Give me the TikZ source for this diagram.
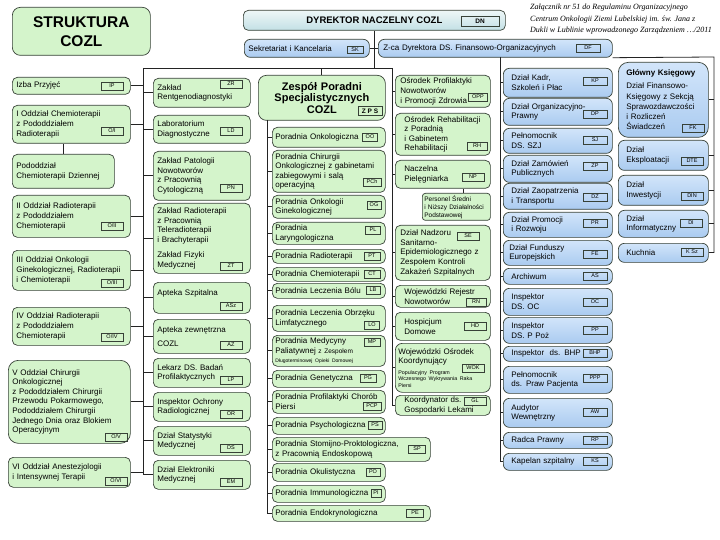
\documentclass[tikz,border=0pt]{standalone}
\usepackage{fontspec}
\setmainfont{Liberation Sans}
\newfontfamily\notefont{Liberation Serif}
\usepackage{tikz}
\usepackage{xcolor}
\definecolor{gfill}{RGB}{212,244,203}
\definecolor{bTop}{RGB}{210,229,250}
\definecolor{bBot}{RGB}{170,203,240}
\definecolor{dTop}{RGB}{238,247,247}
\definecolor{dBot}{RGB}{195,224,229}
\definecolor{boxline}{RGB}{55,65,55}
\definecolor{wirec}{RGB}{35,35,35}

\begin{document}
\begin{tikzpicture}[x=1pt,y=-1pt,
  every node/.style={font=\fontsize{8}{9.6}\selectfont},
  gbox/.style={draw=boxline, line width=0.7pt, fill=gfill, rounded corners=5pt, anchor=north west, align=left, inner xsep=4pt, inner ysep=1pt},
  bbox/.style={draw=boxline, line width=0.7pt, top color=bTop, bottom color=bBot, rounded corners=6pt, anchor=north west, align=left, inner xsep=8pt, inner ysep=1pt},
  dbox/.style={draw=boxline, line width=0.7pt, top color=dTop, bottom color=dBot, rounded corners=5pt, anchor=north west, align=center},
  codebox/.style={draw=boxline, line width=0.5pt, minimum width=22pt, minimum height=8pt, inner sep=0pt, font=\fontsize{5.5}{6}\selectfont},
  wire/.style={draw=wirec, line width=0.8pt}]
\useasboundingbox (0,0) rectangle (720,540);

\node[gbox, text width=130pt, minimum height=48pt, rounded corners=8pt, align=center, font=\bfseries\fontsize{15.5}{19}\selectfont] (title) at (12,7) {STRUKTURA\\COZL};
\node[anchor=north west, align=left, inner sep=0pt, font=\notefont\itshape\fontsize{8}{11.5}\selectfont] (note) at (530,4) {Załącznik nr 51 do Regulaminu Organizacyjnego\\Centrum Onkologii Ziemi Lubelskiej im. św. Jana z\\Dukli w Lublinie wprowadzonego Zarządzeniem …/2011};

\node[dbox, minimum width=262pt, minimum height=20pt, font=\bfseries\fontsize{9.5}{11}\selectfont] (dn) at (243,10) {DYREKTOR NACZELNY COZL};
\node[codebox, minimum width=38pt, minimum height=10pt, font=\bfseries\fontsize{6.5}{7}\selectfont] (cDN) at (480,21) {DN};
\node[bbox, inner xsep=4pt, text width=117pt, minimum height=18pt] (sek) at (244,39) {Sekretariat i Kancelaria};
\node[codebox, minimum width=16pt, minimum height=7pt] (cSK) at (355,50) {SK};
\node[bbox, inner xsep=5pt, text width=224pt, minimum height=18pt] (zca) at (378,39) {Z-ca Dyrektora DS. Finansowo-Organizacyjnych};
\node[codebox, minimum width=24pt] (cDF) at (588,48) {DF};

\node[gbox, text width=110pt, minimum height=17pt] (izba) at (12,77) {Izba Przyjęć};
\node[codebox] (cIP) at (112,86) {IP};
\node[gbox, text width=110pt, minimum height=38pt] (odz1) at (12,105) {I Oddział Chemioterapii\\z Pododdziałem\\Radioterapii};
\node[codebox] (cOI) at (112,131) {O/I};
\node[gbox, text width=94pt, minimum height=34pt] (podo) at (12,154) {Pododdział\\Chemioterapii Dziennej};
\node[gbox, text width=110pt, minimum height=42pt] (odz2) at (12,195) {II Oddział Radioterapii\\z Pododdziałem\\Chemioterapii};
\node[codebox] (cOII) at (112,226) {O/II};
\node[gbox, text width=110pt, minimum height=40pt] (odz3) at (12,250) {III Oddział Onkologii\\Ginekologicznej, Radioterapii\\i Chemioterapii};
\node[codebox] (cOIII) at (112,283) {O/III};
\node[gbox, text width=110pt, minimum height=38pt] (odz4) at (12,307) {IV Oddział Radioterapii\\z Pododdziałem\\Chemioterapii};
\node[codebox] (cOIV) at (112,337) {O/IV};
\node[gbox, text width=114pt, minimum height=83pt, rounded corners=10pt] (odz5) at (8,360) {V Oddział Chirurgii\\Onkologicznej\\z Pododdziałem Chirurgii\\Przewodu Pokarmowego,\\Pododdziałem Chirurgii\\Jednego Dnia oraz Blokiem\\Operacyjnym};
\node[codebox] (cOV) at (116,437) {O/V};
\node[gbox, text width=114pt, minimum height=30pt] (odz6) at (8,457) {VI Oddział Anestezjologii\\i Intensywnej Terapii};
\node[codebox] (cOVI) at (116,481) {O/VI};

\node[gbox, text width=89pt, minimum height=29pt] (rtg) at (153,78) {Zakład\\Rentgenodiagnostyki};
\node[codebox] (cZR) at (231,84) {ZR};
\node[gbox, text width=89pt, minimum height=28pt] (lab) at (153,115) {Laboratorium\\Diagnostyczne};
\node[codebox] (cLD) at (231,131) {LD};
\node[gbox, text width=89pt, minimum height=49pt] (pat) at (153,151) {Zakład Patologii\\Nowotworów\\z Pracownią\\Cytologiczną};
\node[codebox] (cPN) at (231,188) {PN};
\node[gbox, text width=89pt, minimum height=70pt] (radz) at (153,203) {Zakład Radioterapii\\z Pracownią\\Teleradioterapii\\i Brachyterapii\\[6pt]Zakład Fizyki\\Medycznej};
\node[codebox] (cZT) at (231,266) {ZT};
\node[gbox, text width=89pt, minimum height=31pt] (apsz) at (153,282) {Apteka Szpitalna\\\mbox{}};
\node[codebox] (cASz) at (231,306) {ASz};
\node[gbox, text width=89pt, minimum height=34pt] (apzw) at (153,319) {Apteka zewnętrzna\\[4pt]COZL};
\node[codebox] (cAZ) at (231,345) {AZ};
\node[gbox, text width=89pt, minimum height=29pt] (lek) at (153,358) {Lekarz DS. Badań\\Profilaktycznych};
\node[codebox] (cLP) at (231,380) {LP};
\node[gbox, text width=89pt, minimum height=29pt] (ochr) at (153,392) {Inspektor Ochrony\\Radiologicznej};
\node[codebox] (cOR) at (231,414) {OR};
\node[gbox, text width=89pt, minimum height=29pt] (stat) at (153,426) {Dział Statystyki\\Medycznej};
\node[codebox] (cDS) at (231,448) {DS};
\node[gbox, text width=89pt, minimum height=29pt] (elek) at (153,460) {Dział Elektroniki\\Medycznej};
\node[codebox] (cEM) at (231,482) {EM};

\node[gbox, text width=119pt, minimum height=45pt, rounded corners=8pt, align=center, font=\bfseries\fontsize{11}{11.3}\selectfont] (zps) at (258,75) {Zespół Poradni\\Specjalistycznych\\COZL};
\node[codebox, minimum width=24pt, minimum height=9pt, font=\bfseries\fontsize{6.5}{7}\selectfont] (cZPS) at (370,111) {Z P S};
\node[gbox, inner xsep=3pt, text width=107pt, minimum height=20pt] (pOnk) at (272,127) {Poradnia Onkologiczna};
\node[codebox, minimum width=15pt] (cOO) at (370,137) {OO};
\node[gbox, inner xsep=3pt, text width=107pt, minimum height=42pt] (pChir) at (272,150) {Poradnia Chirurgii\\Onkologicznej z gabinetami\\zabiegowymi i salą\\operacyjną};
\node[codebox, minimum width=18pt] (cPCh) at (372,182) {PCh};
\node[gbox, inner xsep=3pt, text width=107pt, minimum height=23pt] (pOG) at (272,195) {Poradnia Onkologii\\Ginekologicznej};
\node[codebox, minimum width=14pt] (cOG) at (374,205) {OG};
\node[gbox, inner xsep=3pt, text width=107pt, minimum height=22pt] (pLar) at (272,222) {Poradnia\\Laryngologiczna};
\node[codebox, minimum width=15pt] (cPL) at (373,230) {PL};
\node[gbox, inner xsep=3pt, text width=107pt, minimum height=14pt] (pRad) at (272,249) {Poradnia Radioterapii};
\node[codebox, minimum width=16pt] (cPT) at (372,256) {PT};
\node[gbox, inner xsep=3pt, text width=107pt, minimum height=14pt] (pChem) at (272,267) {Poradnia Chemioterapii};
\node[codebox, minimum width=16pt] (cCT) at (372,274) {CT};
\node[gbox, inner xsep=3pt, text width=107pt, minimum height=15pt] (pBol) at (272,283) {Poradnia Leczenia Bólu};
\node[codebox, minimum width=14pt] (cLB) at (373,290) {LB};
\node[gbox, inner xsep=3pt, text width=107pt, minimum height=26pt] (pLimf) at (272,305) {Poradnia Leczenia Obrzęku\\Limfatycznego};
\node[codebox, minimum width=15pt] (cLO) at (372,325) {LO};
\node[gbox, inner xsep=3pt, text width=107pt, minimum height=31pt] (pPal) at (272,335) {Poradnia Medycyny\\Paliatywnej {\fontsize{6.5}{7}\selectfont z Zespołem}\\{\fontsize{5}{6}\selectfont Długoterminowej Opieki Domowej}};
\node[codebox, minimum width=16pt] (cMP) at (372,342) {MP};
\node[gbox, inner xsep=3pt, text width=107pt, minimum height=17pt] (pGen) at (272,370) {Poradnia Genetyczna};
\node[codebox, minimum width=16pt] (cPG) at (368,378) {PG};
\node[gbox, inner xsep=3pt, text width=107pt, minimum height=23pt] (pPier) at (272,390) {Poradnia Profilaktyki Chorób\\Piersi};
\node[codebox, minimum width=18pt] (cPCP) at (372,406) {PCP};
\node[gbox, inner xsep=3pt, text width=107pt, minimum height=17pt] (pPsy) at (272,417) {Poradnia Psychologiczna};
\node[codebox, minimum width=14pt] (cPS) at (375,425) {PS};
\node[gbox, inner xsep=3pt, text width=152pt, minimum height=24pt] (pSto) at (272,437) {Poradnia Stomijno-Proktologiczna,\\z Pracownią Endoskopową};
\node[codebox, minimum width=17pt] (cSP) at (417,449) {SP};
\node[gbox, inner xsep=3pt, text width=107pt, minimum height=18pt] (pOku) at (272,463) {Poradnia Okulistyczna};
\node[codebox, minimum width=14pt] (cPO) at (373,472) {PO};
\node[gbox, inner xsep=3pt, text width=107pt, minimum height=17pt] (pImm) at (272,485) {Poradnia Immunologiczna};
\node[codebox, minimum width=10pt] (cPI) at (376,493) {PI};
\node[gbox, inner xsep=3pt, text width=152pt, minimum height=16pt] (pEnd) at (272,505) {Poradnia Endokrynologiczna};
\node[codebox, minimum width=17pt] (cPE) at (415,513) {PE};

\node[gbox, inner xsep=5pt, text width=85pt, minimum height=32pt] (oPro) at (395,75) {Ośrodek Profilaktyki\\Nowotworów\\i Promocji Zdrowia};
\node[codebox, minimum width=19pt] (cOPP) at (478,97) {OPP};
\node[gbox, inner xsep=9pt, text width=77pt, minimum height=42pt] (oReh) at (395,113) {Ośrodek Rehabilitacji\\z Poradnią\\i Gabinetem\\Rehabilitacji};
\node[codebox, minimum width=20pt] (cRH) at (477,146) {RH};
\node[gbox, inner xsep=9pt, text width=77pt, minimum height=28pt] (oNacz) at (395,160) {Naczelna\\Pielęgniarka};
\node[codebox] (cNP) at (473,177) {NP};
\node[gbox, inner xsep=2pt, text width=64pt, minimum height=27pt, rounded corners=3pt, font=\fontsize{6.5}{8}\selectfont] (pers) at (422,193) {Personel Średni\\i Niższy Działalności\\Podstawowej};
\node[gbox, inner xsep=5pt, text width=85pt, minimum height=55pt] (oSan) at (395,225) {Dział Nadzoru\\Sanitarno-\\Epidemiologicznego z\\Zespołem Kontroli\\Zakażeń Szpitalnych};
\node[codebox] (cSE) at (468,236) {SE};
\node[gbox, inner xsep=9pt, text width=77pt, minimum height=22pt] (oRej) at (395,285) {Wojewódzki Rejestr\\Nowotworów};
\node[codebox, minimum width=20pt] (cRN) at (476,302) {RN};
\node[gbox, inner xsep=9pt, text width=77pt, minimum height=28pt] (oHosp) at (395,312) {Hospicjum\\Domowe};
\node[codebox] (cHD) at (475,326) {HD};
\node[gbox, inner xsep=3pt, text width=89pt, minimum height=49pt, rounded corners=7pt] (oWOK) at (395,343) {Wojewódzki Ośrodek\\Koordynujący\\[1pt]\parbox[t]{85pt}{\fontsize{5.3}{6.6}\selectfont Populacyjny Program\\Wczesnego Wykrywania Raka\\Piersi}};
\node[codebox] (cWOK) at (473,368) {WOK};
\node[gbox, inner xsep=9pt, text width=77pt, minimum height=20pt] (oKoord) at (395,395) {Koordynator ds.\\Gospodarki Lekami};
\node[codebox] (cGL) at (475,401) {GL};

\node[bbox, text width=93pt, minimum height=29pt] (kadr) at (503,68) {Dział Kadr,\\Szkoleń i Płac};
\node[codebox, minimum width=24pt] (cKP) at (595,81) {KP};
\node[bbox, text width=93pt, minimum height=27pt] (orgp) at (503,98) {Dział Organizacyjno-\\Prawny};
\node[codebox, minimum width=24pt] (cDP) at (595,114) {DP};
\node[bbox, text width=93pt, minimum height=25pt] (szj) at (503,128) {Pełnomocnik\\DS. SZJ};
\node[codebox, minimum width=24pt] (cSJ) at (595,140) {SJ};
\node[bbox, text width=93pt, minimum height=27pt] (zam) at (503,155) {Dział Zamówień\\Publicznych};
\node[codebox, minimum width=24pt] (cZP) at (595,166) {ZP};
\node[bbox, text width=93pt, minimum height=26pt] (zaop) at (503,183) {Dział Zaopatrzenia\\i Transportu};
\node[codebox, minimum width=24pt] (cDZ) at (595,197) {DZ};
\node[bbox, text width=93pt, minimum height=25pt] (prom) at (503,212) {Dział Promocji\\i Rozwoju};
\node[codebox, minimum width=24pt] (cPR) at (595,223) {PR};
\node[bbox, inner xsep=6pt, text width=97pt, minimum height=25pt] (fund) at (503,240) {Dział Funduszy\\Europejskich};
\node[codebox, minimum width=24pt] (cFE) at (595,254) {FE};
\node[bbox, text width=93pt, minimum height=16pt] (arch) at (503,268) {Archiwum};
\node[codebox, minimum width=24pt] (cAS) at (595,276) {AS};
\node[bbox, text width=93pt, minimum height=27pt] (ioc) at (503,288) {Inspektor\\DS. OC};
\node[codebox, minimum width=24pt] (cOC) at (595,302) {OC};
\node[bbox, text width=93pt, minimum height=26pt] (ipoz) at (503,317) {Inspektor\\DS. P Poż};
\node[codebox, minimum width=24pt] (cPP) at (595,330) {PP};
\node[bbox, text width=93pt, minimum height=15pt] (bhp) at (503,346) {Inspektor\ \ ds. BHP};
\node[codebox, minimum width=24pt] (cBHP) at (595,353) {BHP};
\node[bbox, text width=93pt, minimum height=27pt] (ppac) at (503,366) {Pełnomocnik\\ds. Praw Pacjenta};
\node[codebox, minimum width=24pt] (cPPP) at (595,378) {PPP};
\node[bbox, text width=93pt, minimum height=29pt] (audyt) at (503,398) {Audytor\\Wewnętrzny};
\node[codebox, minimum width=24pt] (cAW) at (595,412) {AW};
\node[bbox, text width=93pt, minimum height=16pt] (radca) at (503,432) {Radca Prawny};
\node[codebox, minimum width=24pt] (cRP) at (595,440) {RP};
\node[bbox, text width=93pt, minimum height=17pt] (kapel) at (503,453) {Kapelan szpitalny};
\node[codebox, minimum width=24pt] (cKS) at (595,461) {KS};

\node[bbox, text width=74pt, minimum height=75pt, rounded corners=10pt, font=\fontsize{8}{10.3}\selectfont] (gk) at (618,62) {\textbf{Główny Księgowy}\\[3pt]Dział Finansowo-\\Księgowy z Sekcją\\Sprawozdawczości\\i Rozliczeń\\Świadczeń};
\node[codebox] (cFK) at (693,128) {FK};
\node[bbox, text width=74pt, minimum height=30pt] (dte) at (618,140) {Dział\\Eksploatacji};
\node[codebox] (cDTE) at (692,161) {DTE};
\node[bbox, text width=74pt, minimum height=30pt] (din) at (618,175) {Dział\\Inwestycji};
\node[codebox] (cDIN) at (692,196) {DIN};
\node[bbox, text width=74pt, minimum height=27pt] (dinf) at (618,210) {Dział\\Informatyczny};
\node[codebox] (cDI) at (691,223) {DI};
\node[bbox, text width=74pt, minimum height=19pt] (kuch) at (618,243) {Kuchnia};
\node[codebox] (cKSz) at (692,252) {K Sz};

\coordinate (busL) at (143,68);
\coordinate (busO) at (392,68);
\coordinate (bus3) at (267,120);
\coordinate (busB) at (500,57);
\coordinate (busR) at (714,57);

\draw[wire] (dn.south) -- (dn.south |- busL);
\draw[wire] (sek.east) -- (zca.west);
\draw[wire] (busL) -- (busO);
\draw[wire] (zps.north) -- (zps.north |- busL);
\draw[wire] (busL) -- (busL |- elek.west);
\draw[wire] (busO) -- (busO |- oKoord.west);
\draw[wire] (bus3) -- (bus3 |- pEnd.west);
\draw[wire] (busB) -- (busB |- kapel.west);
\draw[wire] (zca.south east) -- (busR) -- (busR |- kuch.east);
\draw[wire] (podo.north) -- (podo.north |- odz1.south);
\draw[wire] ([xshift=7pt]pers.north) -- ([xshift=7pt]pers.north |- oNacz.south);

\draw[wire] (izba.east) -- (izba.east -| busL);
\draw[wire] (odz1.east) -- (odz1.east -| busL);
\draw[wire] (odz2.east) -- (odz2.east -| busL);
\draw[wire] (odz3.east) -- (odz3.east -| busL);
\draw[wire] (odz4.east) -- (odz4.east -| busL);
\draw[wire] (odz5.east) -- (odz5.east -| busL);
\draw[wire] (odz6.east) -- (odz6.east -| busL);

\draw[wire] (rtg.west) -- (rtg.west -| busL);
\draw[wire] (lab.west) -- (lab.west -| busL);
\draw[wire] (pat.west) -- (pat.west -| busL);
\draw[wire] (radz.west) -- (radz.west -| busL);
\draw[wire] (apsz.west) -- (apsz.west -| busL);
\draw[wire] (apzw.west) -- (apzw.west -| busL);
\draw[wire] (lek.west) -- (lek.west -| busL);
\draw[wire] (ochr.west) -- (ochr.west -| busL);
\draw[wire] (stat.west) -- (stat.west -| busL);
\draw[wire] (elek.west) -- (elek.west -| busL);

\draw[wire] (pOnk.west) -- (pOnk.west -| bus3);
\draw[wire] (pChir.west) -- (pChir.west -| bus3);
\draw[wire] (pOG.west) -- (pOG.west -| bus3);
\draw[wire] (pLar.west) -- (pLar.west -| bus3);
\draw[wire] (pRad.west) -- (pRad.west -| bus3);
\draw[wire] (pChem.west) -- (pChem.west -| bus3);
\draw[wire] (pBol.west) -- (pBol.west -| bus3);
\draw[wire] (pLimf.west) -- (pLimf.west -| bus3);
\draw[wire] (pPal.west) -- (pPal.west -| bus3);
\draw[wire] (pGen.west) -- (pGen.west -| bus3);
\draw[wire] (pPier.west) -- (pPier.west -| bus3);
\draw[wire] (pPsy.west) -- (pPsy.west -| bus3);
\draw[wire] (pSto.west) -- (pSto.west -| bus3);
\draw[wire] (pOku.west) -- (pOku.west -| bus3);
\draw[wire] (pImm.west) -- (pImm.west -| bus3);
\draw[wire] (pEnd.west) -- (pEnd.west -| bus3);

\draw[wire] (oPro.west) -- (oPro.west -| busO);
\draw[wire] (oReh.west) -- (oReh.west -| busO);
\draw[wire] (oNacz.west) -- (oNacz.west -| busO);
\draw[wire] (oSan.west) -- (oSan.west -| busO);
\draw[wire] (oRej.west) -- (oRej.west -| busO);
\draw[wire] (oHosp.west) -- (oHosp.west -| busO);
\draw[wire] (oWOK.west) -- (oWOK.west -| busO);
\draw[wire] (oKoord.west) -- (oKoord.west -| busO);

\draw[wire] (kadr.west) -- (kadr.west -| busB);
\draw[wire] (orgp.west) -- (orgp.west -| busB);
\draw[wire] (szj.west) -- (szj.west -| busB);
\draw[wire] (zam.west) -- (zam.west -| busB);
\draw[wire] (zaop.west) -- (zaop.west -| busB);
\draw[wire] (prom.west) -- (prom.west -| busB);
\draw[wire] (fund.west) -- (fund.west -| busB);
\draw[wire] (arch.west) -- (arch.west -| busB);
\draw[wire] (ioc.west) -- (ioc.west -| busB);
\draw[wire] (ipoz.west) -- (ipoz.west -| busB);
\draw[wire] (bhp.west) -- (bhp.west -| busB);
\draw[wire] (ppac.west) -- (ppac.west -| busB);
\draw[wire] (audyt.west) -- (audyt.west -| busB);
\draw[wire] (radca.west) -- (radca.west -| busB);
\draw[wire] (kapel.west) -- (kapel.west -| busB);

\draw[wire] (gk.east) -- (gk.east -| busR);
\draw[wire] (dte.east) -- (dte.east -| busR);
\draw[wire] (din.east) -- (din.east -| busR);
\draw[wire] (dinf.east) -- (dinf.east -| busR);
\draw[wire] (kuch.east) -- (kuch.east -| busR);
\end{tikzpicture}
\end{document}
